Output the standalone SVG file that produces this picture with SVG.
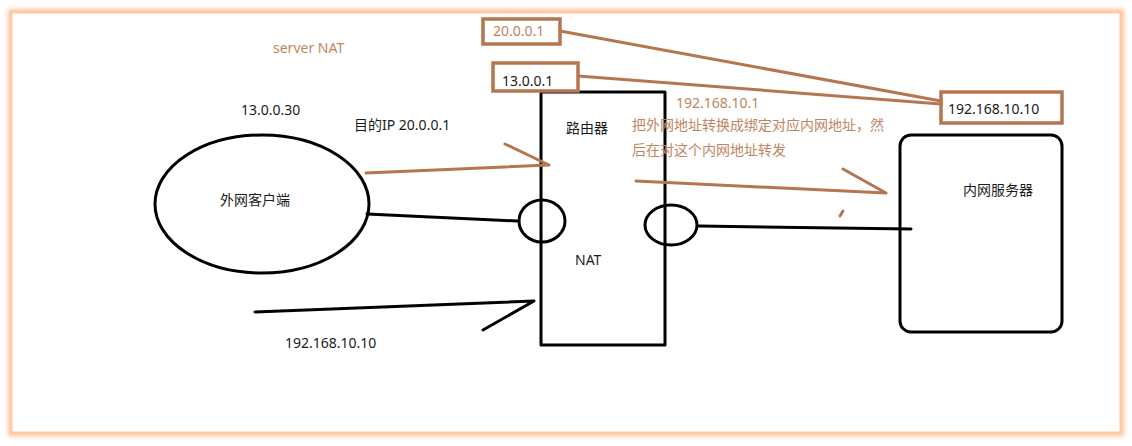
<svg xmlns="http://www.w3.org/2000/svg" width="1132" height="446" viewBox="0 0 1132 446">
<defs>
<filter id="glow" x="-5%" y="-5%" width="110%" height="110%"><feGaussianBlur stdDeviation="2.5"/></filter>
<style>
.t{font-family:"Noto Sans","Noto Sans CJK SC",sans-serif;font-size:14px;fill:#1a1a1a}
.b{fill:#c08560}
.ks{fill:none;stroke:#000;stroke-width:3;stroke-linecap:round;stroke-linejoin:round}
.bs{fill:none;stroke:#b5764f;stroke-width:3;stroke-linecap:round;stroke-linejoin:round}
.bx{fill:#fff;stroke:#b5764f;stroke-width:3.5}
</style>
</defs>
<rect width="1132" height="446" fill="#fff"/>
<rect x="11" y="12" width="1110" height="421" fill="none" stroke="#fcc49a" stroke-width="6" filter="url(#glow)"/>
<rect x="11" y="12" width="1110" height="421" fill="#fff" stroke="#fdcba5" stroke-width="3"/>

<g id="title"><text class="t b" x="273" y="53">server NAT</text></g>

<g id="client">
<ellipse cx="262" cy="204" rx="107" ry="69" class="ks"/>
<text class="t" x="220" y="205">外网客户端</text>
<text class="t" x="241" y="115">13.0.0.30</text>
</g>

<g id="router">
<rect x="541" y="92" width="124" height="253" class="ks"/>
<text class="t" x="566" y="133">路由器</text>
<text class="t" x="575" y="265">NAT</text>
<ellipse cx="542" cy="221" rx="23" ry="21" class="ks"/>
<ellipse cx="671" cy="225" rx="26" ry="20" class="ks"/>
</g>

<g id="server">
<rect x="900" y="135" width="162" height="197" rx="11" class="ks"/>
<text class="t" x="963" y="195">内网服务器</text>
</g>

<g id="ip-public">
<rect x="483" y="19" width="77" height="25" class="bx"/>
<text class="t b" x="493" y="36">20.0.0.1</text>
</g>
<g id="ip-router">
<rect x="493" y="63" width="85" height="28" class="bx"/>
<text class="t" x="502" y="86">13.0.0.1</text>
</g>
<g id="ip-server">
<rect x="941" y="92" width="121" height="31" class="bx"/>
<text class="t" x="948" y="114">192.168.10.10</text>
</g>

<g id="labels">
<text class="t" x="354" y="130">目的IP 20.0.0.1</text>
<text class="t b" x="676" y="108">192.168.10.1</text>
<text class="t b" x="632" y="130">把外网地址转换成绑定对应内网地址，然</text>
<text class="t b" x="632" y="155">后在对这个内网地址转发</text>
<text class="t" x="285" y="348">192.168.10.10</text>
</g>

<g id="connectors">
<path class="bs" d="M560 31 L941 101"/>
<path class="bs" d="M578 76 L941 104"/>
<path class="ks" d="M367 214 L517 221"/>
<path class="ks" d="M699 226 L911 229"/>
<path class="bs" d="M366 173 L549 165 M505 144 L549 165"/>
<path class="bs" d="M636 181 L886 193 M843 169 L886 193"/>
<path class="bs" d="M843 211 L840 216"/>
<path class="ks" d="M255 312 L534 301 L483 330"/>
</g>
</svg>
